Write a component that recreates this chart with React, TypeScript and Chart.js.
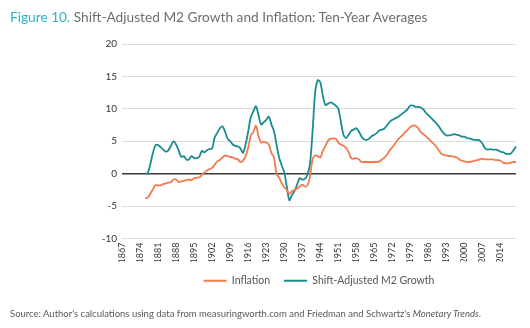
import React, { useEffect, useRef } from "react";
import { Chart, registerables } from "chart.js";

Chart.register(...registerables);

const startYear = 1867;
const endYear = 2020;
const categories: string[] = Array.from({ length: endYear - startYear + 1 }, (_, i) => String(startYear + i));
const tickYears: string[] = [
  "1867", "1874", "1881", "1888", "1895", "1902", "1909", "1916", "1923", "1930", "1937",
  "1944", "1951", "1958", "1965", "1972", "1979", "1986", "1993", "2000", "2007", "2014",
];
const yTicks: number[] = [-10, -5, 0, 5, 10, 15, 20];

// 1867-1875 no data, then 1876..2020
const m2Growth: (number | null)[] = [
  null, null, null, null, null, null, null, null, null,
  0.0, 0.1, 1.5, 3.2,
  4.4, 4.4, 4.1, 3.7, 3.4, 3.6, 4.3, 5.0, 4.5, 3.6,
  2.6, 2.7, 2.2, 2.2, 2.7, 2.4, 2.4, 2.6, 3.5, 3.3,
  3.6, 3.8, 3.9, 5.6, 6.3, 7.0, 7.3, 6.5, 5.4, 5.0,
  4.5, 4.3, 4.2, 3.9, 3.2, 4.5, 6.5, 8.7, 9.6, 10.4,
  9.0, 7.6, 7.9, 8.3, 8.8, 7.6, 6.6, 4.5, 2.5, 1.3,
  0.2, -2.0, -4.1, -3.3, -2.7, -1.7, -0.7, -0.9, -0.8, -0.2,
  1.5, 6.5, 12.5, 14.4, 14.1, 12.0, 10.6, 10.8, 11.0, 10.8,
  10.5, 10.0, 8.0, 6.0, 5.5, 6.0, 6.6, 6.8, 7.0, 6.5,
  5.7, 5.3, 5.2, 5.4, 5.8, 6.0, 6.3, 6.7, 6.8, 7.0,
  7.5, 8.0, 8.3, 8.5, 8.7, 9.0, 9.3, 9.6, 10.0, 10.5,
  10.5, 10.3, 10.3, 10.2, 9.9, 9.4, 9.0, 8.6, 8.2, 7.8,
  7.3, 6.7, 6.2, 5.9, 5.9, 6.0, 6.1, 6.0, 5.9, 5.7,
  5.7, 5.5, 5.4, 5.3, 5.2, 5.2, 5.1, 4.6, 3.9, 3.7,
  3.8, 3.7, 3.7, 3.6, 3.4, 3.3, 3.1, 3.0, 3.1, 3.6,
  4.2,
];

const inflation: (number | null)[] = [
  null, null, null, null, null, null, null, null, null,
  -3.8, -3.7, -3.1, -2.4,
  -1.8, -1.8, -1.8, -1.6, -1.5, -1.4, -1.3, -0.9, -0.9, -1.3,
  -1.2, -1.1, -1.0, -0.9, -1.0, -0.7, -0.6, -0.6, -0.2, 0.2,
  0.5, 0.7, 0.9, 1.4, 1.9, 2.1, 2.5, 2.8, 2.7, 2.6,
  2.5, 2.3, 2.2, 1.8, 2.0, 2.7, 4.0, 5.9, 6.4, 7.4,
  5.8, 4.8, 4.9, 4.8, 4.5, 3.2, 2.5, -0.1, -0.6, -1.5,
  -2.1, -2.5, -3.1, -2.7, -2.5, -2.3, -2.0, -1.7, -2.0, -1.8,
  -0.5, 2.2, 2.8, 2.7, 2.5, 3.5, 4.3, 5.1, 5.4, 5.4,
  5.4, 4.8, 4.5, 4.3, 4.0, 3.3, 2.4, 2.3, 2.4, 2.2,
  1.8, 1.8, 1.8, 1.8, 1.8, 1.8, 1.8, 1.9, 2.2, 2.5,
  3.0, 3.6, 4.1, 4.6, 5.2, 5.6, 6.0, 6.4, 6.8, 7.2,
  7.4, 7.4, 7.0, 6.4, 6.1, 5.8, 5.4, 5.0, 4.6, 4.2,
  3.6, 3.1, 2.9, 2.8, 2.7, 2.7, 2.6, 2.5, 2.2, 2.0,
  1.9, 1.8, 1.8, 1.9, 2.0, 2.1, 2.2, 2.3, 2.2, 2.2,
  2.2, 2.2, 2.1, 2.1, 2.0, 1.7, 1.6, 1.6, 1.7, 1.8,
  1.8,
];

const FONT = "Lato, 'Open Sans', sans-serif";

export default function App() {
  const canvasRef = useRef<HTMLCanvasElement | null>(null);

  useEffect(() => {
    if (!canvasRef.current) return;
    const chart = new Chart(canvasRef.current, {
      type: "line",
      data: {
        labels: categories,
        datasets: [
          {
            label: "Inflation",
            data: inflation,
            borderColor: "#f47a4c",
            backgroundColor: "#f47a4c",
            borderWidth: 1.8,
            pointRadius: 0,
            tension: 0.3,
          },
          {
            label: "Shift-Adjusted M2 Growth",
            data: m2Growth,
            borderColor: "#1a8c90",
            backgroundColor: "#1a8c90",
            borderWidth: 1.8,
            pointRadius: 0,
            tension: 0.3,
          },
        ],
      },
      options: {
        animation: false,
        responsive: false,
        maintainAspectRatio: false,
        layout: { padding: { left: 0, right: 14, top: 44, bottom: 32 } },
        plugins: {
          legend: {
            position: "bottom",
            fullSize: false,
            labels: {
              usePointStyle: true,
              pointStyle: "line",
              pointStyleWidth: 23,
              boxHeight: 10,
              padding: 14,
              color: "#555",
              font: { family: FONT, size: 10.5 },
            },
          },
          tooltip: { enabled: false },
        },
        scales: {
          x: {
            type: "category",
            grid: { display: false, drawTicks: false },
            border: { display: false },
            afterFit: (scale: any) => {
              scale.height = 23;
            },
            ticks: {
              autoSkip: false,
              maxRotation: 90,
              minRotation: 90,
              padding: 4,
              color: "#333",
              font: { family: FONT, size: 9 },
              callback: function (this: any, value: any, index: number) {
                const lbl = categories[index];
                return tickYears.includes(lbl) ? lbl : null;
              },
            },
          },
          y: {
            min: -10,
            max: 20,
            afterFit: (scale: any) => {
              scale.width = 122;
            },
            afterBuildTicks: (scale: any) => {
              scale.ticks = yTicks.map((v) => ({ value: v }));
            },
            border: { display: false },
            grid: {
              drawTicks: false,
              color: (ctx: any) => (ctx.tick && ctx.tick.value === 0 ? "#3a3a3a" : "#dcdcdc"),
              lineWidth: (ctx: any) => (ctx.tick && ctx.tick.value === 0 ? 1.5 : 1),
            },
            ticks: {
              padding: 5,
              color: "#333",
              font: { family: FONT, size: 10 },
            },
          },
        },
      },
    });
    return () => chart.destroy();
  }, []);

  return (
    <div style={{ position: "fixed", left: 0, top: 0, width: 530, height: 328, background: "#fff", overflow: "hidden" }}>
      <canvas ref={canvasRef} width={530} height={328} style={{ position: "absolute", left: 0, top: 0, width: 530, height: 328 }} />
      <div
        style={{
          position: "absolute",
          left: 10,
          top: 8,
          fontFamily: FONT,
          fontSize: 13.7,
          color: "#6d6e71",
          whiteSpace: "nowrap",
          lineHeight: "18px",
        }}
      >
        <span style={{ color: "#2ab3cc" }}>Figure 10.</span> Shift-Adjusted M2 Growth and Inflation: Ten-Year Averages
      </div>
      <div
        style={{
          position: "absolute",
          left: 10,
          top: 307,
          fontFamily: FONT,
          fontSize: 9.5,
          color: "#595959",
          whiteSpace: "nowrap",
          lineHeight: "14px",
        }}
      >
        Source: Author's calculations using data from measuringworth.com and Friedman and Schwartz's <i>Monetary Trends</i>.
      </div>
    </div>
  );
}
